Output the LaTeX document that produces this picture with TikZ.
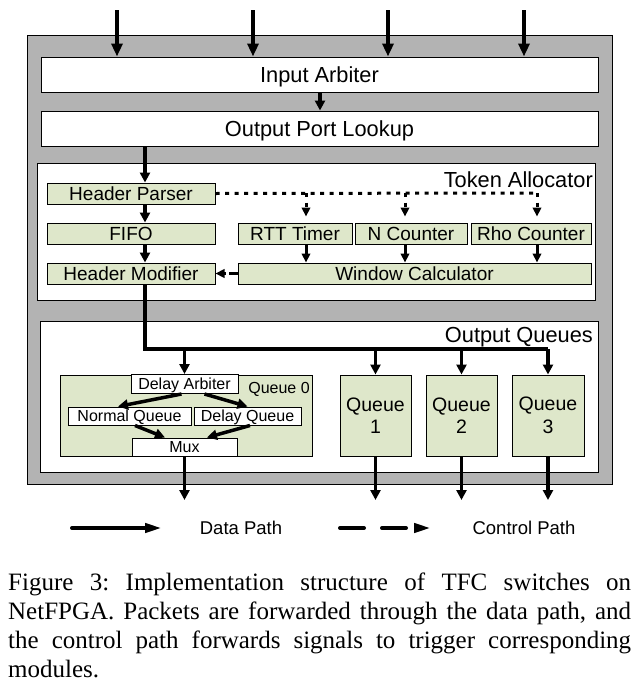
\documentclass[tikz,border=0pt]{standalone}
\usepackage{fontspec}
\setmainfont{Liberation Sans}
\newfontfamily\capfont{Liberation Serif}
\usetikzlibrary{arrows.meta}
\definecolor{panelgray}{RGB}{179,179,179}
\definecolor{modgreen}{RGB}{222,231,202}
\begin{document}
\frenchspacing
\begin{tikzpicture}[x=1pt,y=-1pt,
  box/.style={draw=black,line width=1pt,inner sep=0pt,anchor=center},
  whitebox/.style={box,fill=white},
  modbox/.style={box,fill=modgreen},
  bigtxt/.style={font=\fontsize{21.8}{26}\selectfont,text height=15.6pt,text depth=0pt},
  modtxt/.style={font=\fontsize{19}{22}\selectfont,text height=13.6pt,text depth=0pt},
  smalltxt/.style={font=\fontsize{16}{19}\selectfont,text height=11.4pt,text depth=0pt},
  qtxt/.style={font=\fontsize{19.5}{22.5}\selectfont,align=center},
  data/.style={line width=3.5pt,-{Triangle[width=10pt,length=10pt]}},
  inarrow/.style={line width=4pt,-{Triangle[width=11pt,length=13pt]}},
  busline/.style={line width=4pt,line join=miter},
  thinarrow/.style={line width=3pt,-{Triangle[width=8.5pt,length=9pt]}},
  q0arrow/.style={line width=3.5pt,-{Triangle[width=10pt,length=10pt]}},
  ctrl/.style={line width=3pt,dash pattern=on 4pt off 5.5pt},
  ctrlarrow/.style={ctrl,-{Triangle[width=8.5pt,length=9pt]}},
  ctrlshort/.style={line width=3pt,dash pattern=on 9pt off 3pt,-{Triangle[width=8.5pt,length=9pt]}},
  legdata/.style={line width=4pt,line cap=round,-{Triangle[width=9pt,length=17pt,line cap=butt]}},
  legctrl/.style={line width=4pt,line cap=round,dash pattern=on 24pt off 18pt,-{Triangle[width=9pt,length=17pt,line cap=butt]}},
  legtxt/.style={font=\fontsize{18.5}{22}\selectfont,inner sep=0pt},
  captxt/.style={anchor=base west,inner sep=0pt,font=\capfont\fontsize{25}{29}\selectfont}
]
\useasboundingbox (0,0) rectangle (637,688);
\fill[white] (0,0) rectangle (637,688);

% panels
\node[box,fill=panelgray,minimum width=585pt,minimum height=449pt] (panel) at (319.5,259.5) {};
\node[whitebox,bigtxt,minimum width=557pt,minimum height=35pt] (IA) at (319.5,74.5) {Input Arbiter};
\node[whitebox,bigtxt,minimum width=557pt,minimum height=35pt] (OPL) at (319.5,128.5) {Output Port Lookup};
\node[whitebox,minimum width=558pt,minimum height=137pt] (TA) at (316,231.5) {};
\node[whitebox,minimum width=558pt,minimum height=151pt] (OQ) at (319,396.5) {};
\node[bigtxt,anchor=base east,inner sep=0pt] (TAlabel) at (593,187) {Token Allocator};
\node[bigtxt,anchor=base east,inner sep=0pt] (OQlabel) at (593,342) {Output Queues};

% token allocator modules
\node[modbox,modtxt,minimum width=168pt,minimum height=21pt] (HP) at (131,193.5) {Header Parser};
\node[modbox,modtxt,minimum width=168pt,minimum height=21pt] (FIFO) at (131,233.5) {FIFO};
\node[modbox,modtxt,minimum width=168pt,minimum height=21pt] (HM) at (131,273.5) {Header Modifier};
\node[modbox,modtxt,minimum width=114pt,minimum height=21pt] (RTT) at (295,233.5) {RTT Timer};
\node[modbox,modtxt,minimum width=112pt,minimum height=21pt] (NC) at (411,233.5) {N Counter};
\node[modbox,modtxt,minimum width=120pt,minimum height=21pt] (RC) at (531,233.5) {Rho Counter};
\node[modbox,modtxt,minimum width=353pt,minimum height=21pt] (WC) at (414.5,273.5) {Window Calculator};

% output queues
\node[modbox,minimum width=252pt,minimum height=81pt] (Q0) at (186,415.5) {};
\node[smalltxt,inner sep=0pt] (Q0label) at (279,388) {Queue 0};
\node[whitebox,smalltxt,minimum width=107pt,minimum height=19pt] (DA) at (184.5,384) {Delay Arbiter};
\node[whitebox,smalltxt,minimum width=123pt,minimum height=18pt] (NQ) at (129.5,416) {Normal Queue};
\node[whitebox,smalltxt,minimum width=107pt,minimum height=18pt] (DQ) at (247.5,416) {Delay Queue};
\node[whitebox,smalltxt,minimum width=105pt,minimum height=18pt] (MUX) at (184.5,447) {Mux};
\node[modbox,qtxt,minimum width=71pt,minimum height=81pt] (Q1) at (375.5,415.5) {Queue\\1};
\node[modbox,qtxt,minimum width=71pt,minimum height=81pt] (Q2) at (461.5,415.5) {Queue\\2};
\node[modbox,qtxt,minimum width=72pt,minimum height=81pt] (Q3) at (548,415.5) {Queue\\3};

% input arrows
\coordinate (in1) at (117,10);
\coordinate (in2) at (253,10);
\coordinate (in3) at (388,10);
\coordinate (in4) at (524,10);
\foreach \i in {in1,in2,in3,in4} \draw[inarrow] (\i) -- (\i |- IA.north);

% data path
\coordinate (mid) at (320,0);
\draw[data] (mid |- IA.south) -- (mid |- OPL.north);
\coordinate (dx) at (145,0);
\draw[data] (dx |- OPL.south) -- (dx |- HP.north);
\draw[data] (dx |- HP.south) -- (dx |- FIFO.north);
\draw[data] (dx |- FIFO.south) -- (dx |- HM.north);
\coordinate (busend) at (548,349);
\draw[busline] (dx |- HM.south) |- (busend);
\draw[data] (DA.north |- busend) -- (DA.north);
\draw[data] (Q1.north |- busend) -- (Q1.north);
\draw[data] (Q2.north |- busend) -- (Q2.north);
\draw[data] (busend) -- (Q3.north);

% queue 0 internals
\draw[q0arrow] ([xshift=-3pt]DA.south) -- ([xshift=-11.5pt]NQ.north);
\draw[q0arrow] ([xshift=20pt]DA.south) -- (DQ.north);
\draw[q0arrow] ([xshift=5.5pt]NQ.south) -- ([xshift=-19.5pt]MUX.north);
\draw[q0arrow] ([xshift=2.5pt]DQ.south) -- ([xshift=22.5pt]MUX.north);

% outputs
\coordinate (outy) at (0,500);
\foreach \q in {MUX,Q1,Q2,Q3} \draw[data] (\q.south) -- (\q.south |- outy);

% control path
\coordinate (c1) at (306,193);
\coordinate (c2) at (405,193);
\coordinate (c3) at (537,193);
\draw[ctrl] (HP.east) -- (c3);
\draw[ctrlarrow,shorten >=6pt] (c1) -- (c1 |- RTT.north);
\draw[ctrlarrow,shorten >=6pt] (c2) -- (c2 |- NC.north);
\draw[ctrlarrow,shorten >=6pt] (c3) -- (c3 |- RC.north);
\draw[thinarrow] (c1 |- RTT.south) -- (c1 |- WC.north);
\draw[thinarrow] (c2 |- NC.south) -- (c2 |- WC.north);
\draw[thinarrow] (c3 |- RC.south) -- (c3 |- WC.north);
\draw[ctrlshort] (WC.west) -- (HM.east);

% legend
\coordinate (ld0) at (72,528);
\coordinate (ld1) at (162,528);
\coordinate (lc0) at (340,528);
\coordinate (lc1) at (431,528);
\draw[legdata] (ld0) -- (ld1);
\draw[legctrl] (lc0) -- (lc1);
\node[legtxt] (ldtxt) at (241,528) {Data Path};
\node[legtxt] (lctxt) at (524,528) {Control Path};

% caption
\node[captxt] (cap1) at (8,590) {\makebox[623pt][s]{Figure 3: Implementation structure of TFC switches on}};
\node[captxt] (cap2) at (8,619) {\makebox[623pt][s]{NetFPGA. Packets are forwarded through the data path, and}};
\node[captxt] (cap3) at (8,648) {\makebox[623pt][s]{the control path forwards signals to trigger corresponding}};
\node[captxt] (cap4) at (8,677) {modules.};
\end{tikzpicture}
\end{document}
